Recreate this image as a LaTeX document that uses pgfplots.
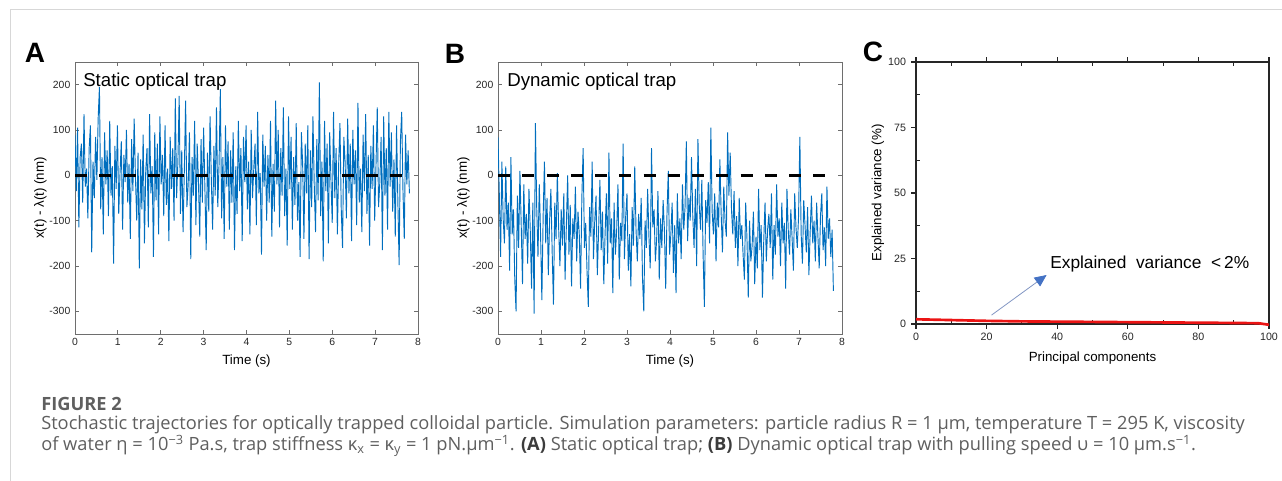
\documentclass[border=0pt]{standalone}
\usepackage{fontspec}
\setmainfont{Liberation Sans}
\newfontfamily\capfont{Open Sans}
\usepackage{pgfplots}
\pgfplotsset{compat=1.18}
\usetikzlibrary{arrows.meta}
\definecolor{mblue}{RGB}{0,110,190}
\definecolor{axgray}{RGB}{110,110,110}
\definecolor{labgray}{RGB}{38,38,38}
\definecolor{framegray}{RGB}{215,215,215}
\definecolor{capgray}{RGB}{95,95,95}
\definecolor{capdark}{RGB}{60,60,60}
\definecolor{arrowblue}{RGB}{68,114,196}
\definecolor{arrowline}{RGB}{130,150,195}
\definecolor{pcared}{RGB}{235,20,20}

\pgfplotstableread[row sep=\\]{
x y\\
0 90\\ 0.03 -35\\ 0.06 105\\ 0.09 -115\\ 0.12 40\\ 0.15 70\\ 0.18 -60\\ 0.21 135\\ 0.24 -25\\ 0.27 15\\
0.30 -95\\ 0.33 60\\ 0.36 110\\ 0.39 -170\\ 0.42 30\\ 0.45 -50\\ 0.48 85\\ 0.51 -10\\ 0.54 125\\ 0.57 195\\
0.60 -75\\ 0.63 40\\ 0.66 -130\\ 0.69 95\\ 0.72 -20\\ 0.75 55\\ 0.78 -90\\ 0.81 120\\ 0.84 -45\\ 0.87 20\\
0.90 -195\\ 0.93 65\\ 0.96 -30\\ 0.99 110\\ 1.02 -85\\ 1.05 5\\ 1.08 75\\ 1.11 -120\\ 1.14 45\\ 1.17 -15\\
1.20 100\\ 1.23 -60\\ 1.26 25\\ 1.29 -140\\ 1.32 80\\ 1.35 -35\\ 1.38 125\\ 1.41 -5\\ 1.44 -100\\ 1.47 50\\
1.50 -205\\ 1.53 35\\ 1.56 -75\\ 1.59 90\\ 1.62 -150\\ 1.65 10\\ 1.68 60\\ 1.71 -115\\ 1.74 135\\ 1.77 -40\\
1.80 20\\ 1.83 -180\\ 1.86 95\\ 1.89 -55\\ 1.92 70\\ 1.95 -130\\ 1.98 130\\ 2.01 -20\\ 2.04 45\\ 2.07 -90\\
2.10 110\\ 2.13 -65\\ 2.16 15\\ 2.19 -145\\ 2.22 85\\ 2.25 -30\\ 2.28 60\\ 2.31 -100\\ 2.34 170\\ 2.37 -50\\
2.40 30\\ 2.43 175\\ 2.46 -85\\ 2.49 55\\ 2.52 -125\\ 2.55 10\\ 2.58 165\\ 2.61 -70\\ 2.64 -20\\ 2.67 95\\
2.70 -185\\ 2.73 40\\ 2.76 -45\\ 2.79 120\\ 2.82 -110\\ 2.85 70\\ 2.88 -15\\ 2.91 -135\\ 2.94 80\\ 2.97 -60\\
3.00 105\\ 3.03 -30\\ 3.06 -165\\ 3.09 50\\ 3.12 -80\\ 3.15 130\\ 3.18 -10\\ 3.21 -120\\ 3.24 65\\ 3.27 -45\\
3.30 150\\ 3.33 -70\\ 3.36 25\\ 3.39 190\\ 3.42 -95\\ 3.45 40\\ 3.48 -140\\ 3.51 110\\ 3.54 -25\\ 3.57 75\\
3.60 -120\\ 3.63 55\\ 3.66 -60\\ 3.69 95\\ 3.72 -165\\ 3.75 20\\ 3.78 -85\\ 3.81 120\\ 3.84 -35\\ 3.87 60\\
3.90 -145\\ 3.93 85\\ 3.96 -15\\ 3.99 110\\ 4.02 -75\\ 4.05 30\\ 4.08 -130\\ 4.11 100\\ 4.14 -50\\ 4.17 15\\
4.20 70\\ 4.23 -110\\ 4.26 140\\ 4.29 -40\\ 4.32 5\\ 4.35 -175\\ 4.38 90\\ 4.41 -25\\ 4.44 65\\ 4.47 -100\\
4.50 45\\ 4.53 -60\\ 4.56 120\\ 4.59 -135\\ 4.62 25\\ 4.65 -80\\ 4.68 165\\ 4.71 -20\\ 4.74 100\\ 4.77 -115\\
4.80 60\\ 4.83 -45\\ 4.86 150\\ 4.89 -90\\ 4.92 15\\ 4.95 -155\\ 4.98 130\\ 5.01 -30\\ 5.04 85\\ 5.07 -120\\
5.10 40\\ 5.13 -65\\ 5.16 115\\ 5.19 -100\\ 5.22 -15\\ 5.25 -180\\ 5.28 95\\ 5.31 25\\ 5.34 -140\\ 5.37 70\\
5.40 -40\\ 5.43 110\\ 5.46 -185\\ 5.49 55\\ 5.52 -70\\ 5.55 130\\ 5.58 -20\\ 5.61 -125\\ 5.64 80\\ 5.67 -55\\
5.70 205\\ 5.73 -90\\ 5.76 30\\ 5.79 -190\\ 5.82 120\\ 5.85 -35\\ 5.88 70\\ 5.91 -150\\ 5.94 95\\ 5.97 -10\\
6.00 -105\\ 6.03 140\\ 6.06 -50\\ 6.09 60\\ 6.12 -130\\ 6.15 25\\ 6.18 115\\ 6.21 -75\\ 6.24 -160\\ 6.27 85\\
6.30 30\\ 6.33 -95\\ 6.36 125\\ 6.39 -40\\ 6.42 70\\ 6.45 -145\\ 6.48 100\\ 6.51 -20\\ 6.54 55\\ 6.57 -110\\
6.60 160\\ 6.63 -60\\ 6.66 15\\ 6.69 -125\\ 6.72 90\\ 6.75 -35\\ 6.78 135\\ 6.81 -85\\ 6.84 45\\ 6.87 -155\\
6.90 65\\ 6.93 -30\\ 6.96 110\\ 6.99 -100\\ 7.02 20\\ 7.05 150\\ 7.08 -70\\ 7.11 -15\\ 7.14 85\\ 7.17 -165\\
7.20 130\\ 7.23 -45\\ 7.26 60\\ 7.29 -120\\ 7.32 140\\ 7.35 -25\\ 7.38 95\\ 7.41 -80\\ 7.44 35\\ 7.47 -135\\
7.50 110\\ 7.53 -55\\ 7.56 -198\\ 7.59 75\\ 7.62 140\\ 7.65 -35\\ 7.68 -140\\ 7.71 90\\ 7.74 -20\\ 7.77 55\\ 7.80 -40\\
}\dataA

\pgfplotstableread[row sep=\\]{
x y\\
0 85\\ 0.03 -40\\ 0.06 -180\\ 0.09 30\\ 0.12 -95\\ 0.15 -150\\ 0.18 20\\ 0.21 -120\\ 0.24 -60\\ 0.27 -210\\
0.30 40\\ 0.33 -130\\ 0.36 -75\\ 0.39 -230\\ 0.42 -300\\ 0.45 -45\\ 0.48 -160\\ 0.51 10\\ 0.54 -110\\ 0.57 -240\\
0.60 -20\\ 0.63 -140\\ 0.66 -85\\ 0.69 -195\\ 0.72 -30\\ 0.75 -120\\ 0.78 -250\\ 0.81 -60\\ 0.84 -305\\ 0.87 115\\
0.90 -70\\ 0.93 -180\\ 0.96 -20\\ 0.99 -130\\ 1.02 -275\\ 1.05 -90\\ 1.08 30\\ 1.11 -150\\ 1.14 -50\\ 1.17 -220\\
1.20 -100\\ 1.23 -30\\ 1.26 -170\\ 1.29 -285\\ 1.32 -60\\ 1.35 -140\\ 1.38 5\\ 1.41 -115\\ 1.44 -200\\ 1.47 -75\\
1.50 -155\\ 1.53 -40\\ 1.56 -230\\ 1.59 -110\\ 1.62 0\\ 1.65 -175\\ 1.68 -65\\ 1.71 -245\\ 1.74 -95\\ 1.77 -140\\
1.80 -25\\ 1.83 -190\\ 1.86 -80\\ 1.89 -130\\ 1.92 -250\\ 1.95 -50\\ 1.98 60\\ 2.01 -160\\ 2.04 -105\\ 2.07 -210\\
2.10 -290\\ 2.13 -70\\ 2.16 -135\\ 2.19 30\\ 2.22 -185\\ 2.25 -100\\ 2.28 -45\\ 2.31 -220\\ 2.34 -120\\ 2.37 -10\\
2.40 -165\\ 2.43 -80\\ 2.46 -240\\ 2.49 -130\\ 2.52 -40\\ 2.55 -195\\ 2.58 50\\ 2.61 -150\\ 2.64 -95\\ 2.67 -260\\
2.70 -60\\ 2.73 -175\\ 2.76 -120\\ 2.79 -20\\ 2.82 -230\\ 2.85 -105\\ 2.88 -145\\ 2.91 70\\ 2.94 -185\\ 2.97 -90\\
3.00 -40\\ 3.03 -210\\ 3.06 -130\\ 3.09 -245\\ 3.12 -70\\ 3.15 -155\\ 3.18 20\\ 3.21 -120\\ 3.24 -190\\ 3.27 -85\\
3.30 -140\\ 3.33 -50\\ 3.36 -225\\ 3.39 -300\\ 3.42 -100\\ 3.45 -160\\ 3.48 -30\\ 3.51 -135\\ 3.54 -205\\ 3.57 60\\
3.60 -115\\ 3.63 -75\\ 3.66 -190\\ 3.69 -140\\ 3.72 -35\\ 3.75 -230\\ 3.78 -95\\ 3.81 -160\\ 3.84 -55\\ 3.87 -120\\
3.90 -250\\ 3.93 -85\\ 3.96 10\\ 3.99 -175\\ 4.02 -130\\ 4.05 -60\\ 4.08 -215\\ 4.11 -110\\ 4.14 -260\\ 4.17 -40\\
4.20 -150\\ 4.23 -95\\ 4.26 -185\\ 4.29 -20\\ 4.32 -120\\ 4.35 -70\\ 4.38 75\\ 4.41 -145\\ 4.44 -50\\ 4.47 -100\\
4.50 40\\ 4.53 -90\\ 4.56 -160\\ 4.59 -30\\ 4.62 -200\\ 4.65 80\\ 4.68 -65\\ 4.71 -120\\ 4.74 -10\\ 4.77 -175\\
4.80 -290\\ 4.83 -55\\ 4.86 -105\\ 4.89 -15\\ 4.92 -150\\ 4.95 105\\ 4.98 -80\\ 5.01 -130\\ 5.04 -40\\ 5.07 -190\\
5.10 -60\\ 5.13 -115\\ 5.16 35\\ 5.19 -85\\ 5.22 -170\\ 5.25 -25\\ 5.28 -100\\ 5.31 -135\\ 5.34 95\\ 5.37 -45\\
5.40 50\\ 5.43 -75\\ 5.46 -130\\ 5.49 -35\\ 5.52 -160\\ 5.55 -90\\ 5.58 -200\\ 5.61 -50\\ 5.64 -140\\ 5.67 -110\\
5.70 -175\\ 5.73 -230\\ 5.76 -60\\ 5.79 -140\\ 5.82 -270\\ 5.85 -100\\ 5.88 -190\\ 5.91 -155\\ 5.94 -80\\ 5.97 -240\\
6.00 -135\\ 6.03 -205\\ 6.06 -30\\ 6.09 -165\\ 6.12 -110\\ 6.15 -270\\ 6.18 -145\\ 6.21 -60\\ 6.24 -190\\ 6.27 -120\\
6.30 -85\\ 6.33 -160\\ 6.36 -40\\ 6.39 -230\\ 6.42 -110\\ 6.45 -175\\ 6.48 -20\\ 6.51 -135\\ 6.54 -95\\ 6.57 -200\\
6.60 -60\\ 6.63 -150\\ 6.66 -105\\ 6.69 -250\\ 6.72 -30\\ 6.75 -120\\ 6.78 -175\\ 6.81 -75\\ 6.84 -140\\ 6.87 -210\\
6.90 -40\\ 6.93 -115\\ 6.96 -160\\ 6.99 -90\\ 7.02 85\\ 7.05 -130\\ 7.08 -195\\ 7.11 -55\\ 7.14 -110\\ 7.17 -170\\
7.20 -70\\ 7.23 -220\\ 7.26 -125\\ 7.29 -45\\ 7.32 -150\\ 7.35 -100\\ 7.38 -190\\ 7.41 -60\\ 7.44 -135\\ 7.47 -205\\
7.50 -90\\ 7.53 -40\\ 7.56 -165\\ 7.59 -115\\ 7.62 -200\\ 7.65 -25\\ 7.68 -140\\ 7.71 -95\\ 7.74 -180\\ 7.77 -120\\ 7.80 -255\\
}\dataB

\pgfplotstableread[row sep=\\]{
x y\\
0 1.8\\ 10 1.5\\ 20 1.2\\ 30 1.0\\ 40 0.9\\ 50 0.8\\ 60 0.7\\ 70 0.6\\ 80 0.5\\ 90 0.4\\ 97 0.3\\ 100 -0.3\\
}\dataC

\pgfplotsset{
  matlabax/.style={
    anchor=south west, scale only axis,
    xmin=0, xmax=8, ymin=-350, ymax=250,
    xtick={0,1,...,8}, ytick={-300,-200,...,200},
    tick align=inside, major tick length=3pt,
    axis line style={draw=axgray, line width=0.6pt},
    tick style={draw=axgray, line width=0.6pt},
    tick label style={font=\fontsize{7.8}{9}\selectfont, text=labgray},
    /pgf/number format/assume math mode=true,
    xlabel={Time (s)}, ylabel={x(t) - λ(t) (nm)},
    label style={font=\fontsize{8.5}{10}\selectfont, text=labgray},
    every axis x label/.style={at={(axis description cs:0.5,-0.0993)}, anchor=center},
    every axis y label/.style={at={(axis description cs:-0.1007,0.5)}, rotate=90, anchor=center},
  }
}

\begin{document}
\begin{tikzpicture}[x=1pt,y=1pt]
\useasboundingbox (0,0) rectangle (961.5,360.75);
\draw[color=framegray, line width=0.75pt] (7.5,0) -- (7.5,353.25) -- (961.5,353.25);

% Panel A
\begin{axis}[matlabax, at={(56.25pt,110.25pt)}, width=257.25pt, height=204pt]
\addplot[mblue, line width=0.7pt] table[x=x,y=y] {\dataA};
\addplot[black, line width=2.25pt, dash pattern=on 9pt off 9.2pt] coordinates {(0,0) (7.8,0)};
\end{axis}

% Panel B
\begin{axis}[matlabax, at={(373.5pt,110.25pt)}, width=258pt, height=204pt]
\addplot[mblue, line width=0.7pt] table[x=x,y=y] {\dataB};
\addplot[black, line width=2.25pt, dash pattern=on 9pt off 9.2pt] coordinates {(0,0) (7.8,0)};
\end{axis}

% Panel C
\begin{axis}[at={(687pt,117.75pt)}, anchor=south west, scale only axis,
  width=264.75pt, height=196.5pt,
  xmin=0, xmax=100, ymin=0, ymax=100,
  xtick={0,20,...,100}, ytick={0,25,...,100},
  minor xtick={10,30,...,90}, minor ytick={12.5,37.5,62.5,87.5},
  xtick pos=both, ytick pos=left,
  tick align=inside, major tick length=-3.5pt, minor tick length=3pt,
  axis line style={draw=black!85, line width=1.1pt},
  tick style={draw=black!85, line width=0.8pt},
  tick label style={font=\fontsize{8}{9}\selectfont, text=labgray},
  xticklabel style={yshift=-3.5pt},
  yticklabel style={xshift=-4pt},
  /pgf/number format/assume math mode=true,
  xlabel={Principal components}, ylabel={Explained variance (\%)},
  label style={font=\fontsize{9.3}{11}\selectfont, text=labgray},
  every axis x label/.style={at={(axis description cs:0.5,-0.1298)}, anchor=center},
  every axis y label/.style={at={(axis description cs:-0.1077,0.5)}, rotate=90, anchor=center},
  clip=false]
\addplot[pcared, line width=2pt] table[x=x,y=y] {\dataC};
\draw[line width=0.6pt, color=arrowline, -{Triangle[length=9pt,width=8pt,fill=arrowblue,color=arrowblue]}] (axis cs:21.4,3.4) -- (axis cs:37,18.7);
\end{axis}
\node[anchor=base west, font=\fontsize{13}{15}\selectfont, inner sep=0pt] at (787.5,159) {Explained\ \ variance\ \ {<}\,2\%};

% titles and letters
\node[anchor=base west, font=\fontsize{14}{16}\selectfont, inner sep=0pt] at (62.25,295.5) {Static optical trap};
\node[anchor=base west, font=\fontsize{14}{16}\selectfont, inner sep=0pt] at (380.25,295.5) {Dynamic optical trap};
\node[font=\bfseries\fontsize{21}{22}\selectfont, inner sep=0pt] at (26.25,321) {A};
\node[font=\bfseries\fontsize{21}{22}\selectfont, inner sep=0pt] at (341.25,320.25) {B};
\node[font=\bfseries\fontsize{21}{22}\selectfont, inner sep=0pt] at (654.75,321.75) {C};

% caption
\node[anchor=base west, inner sep=0pt, font=\capfont\bfseries\fontsize{13.7}{15}\selectfont, text=capgray] at (30.75,52.5) {FIGURE 2};
\node[anchor=base west, inner sep=0pt, font=\capfont\fontsize{13.7}{15}\selectfont, text=capgray] at (30.75,38.5) {Stochastic trajectories for optically trapped colloidal particle. Simulation parameters: particle radius R = 1 μm, temperature T = 295 K, viscosity};
\node[anchor=base west, inner sep=0pt, font=\capfont\fontsize{13.7}{15}\selectfont, text=capgray] at (30.75,22.5) {of water η = 10\textsuperscript{−3} Pa.s, trap stiffness κ\textsubscript{x} = κ\textsubscript{y} = 1 pN.μm\textsuperscript{−1}. \textcolor{capdark}{\textbf{(A)}} Static optical trap; \textcolor{capdark}{\textbf{(B)}} Dynamic optical trap with pulling speed υ = 10 μm.s\textsuperscript{−1}.};
\end{tikzpicture}
\end{document}
